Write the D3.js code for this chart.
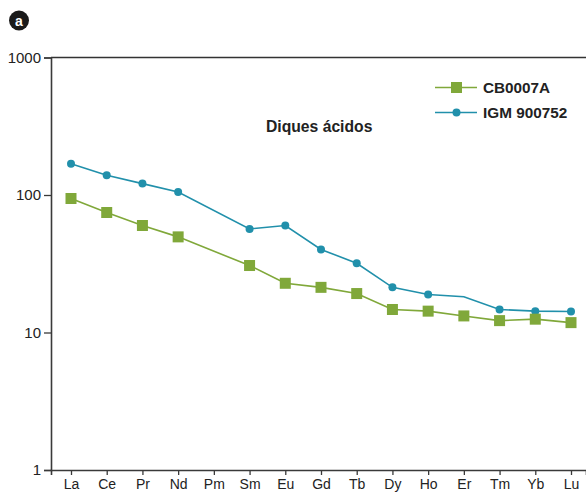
<!DOCTYPE html>
<html><head><meta charset="utf-8">
<script src="https://cdn.jsdelivr.net/npm/d3@7"></script>
<style>
html,body{margin:0;padding:0;background:#fff;}
svg{display:block;font-family:"Liberation Sans",Arial,Helvetica,sans-serif;}
</style></head>
<body>
<svg id="chart" width="586" height="492"></svg>
<script>
const elements = ["La","Ce","Pr","Nd","Pm","Sm","Eu","Gd","Tb","Dy","Ho","Er","Tm","Yb","Lu"];
const cb0007a = [94.3,74.6,60,49.6,null,30.7,22.8,21.3,19.2,14.7,14.3,13.2,12.2,12.5,11.8];
const igm900752 = [169,139,121,105,null,56.7,60,40.2,31.9,21.3,18.9,18.2,14.7,14.3,14.2];
const igmMarked = [true,true,true,true,false,true,true,true,true,true,true,false,true,true,true];
const yTicks = [1,10,100,1000];
const seriesNames = ["CB0007A","IGM 900752"];
const title = "Diques ácidos";
const panelLabel = "a";

(function(){
const green = "#80a83a", blue = "#2190ab";
const svg = d3.select("#chart");
const mLeft = 51, mRight = 586, mTop = 57.5, mBottom = 470;

const x = d3.scaleLinear().domain([-0.56, 14.42]).range([mLeft, mRight]);
const y = d3.scaleLog().domain([1, 1000]).range([mBottom, mTop]);

// Top frame line
svg.append("line").attr("x1", mLeft).attr("x2", mRight).attr("y1", mTop).attr("y2", mTop)
  .attr("stroke", "#333").attr("stroke-width", 1.5);

// Y axis
const yAxis = d3.axisLeft(y).tickValues(yTicks).tickFormat(d3.format("d")).tickSizeOuter(0).tickSize(7).tickPadding(3);
const gy = svg.append("g").attr("transform", `translate(${mLeft},0)`).call(yAxis);
gy.select(".domain").attr("stroke", "#3a3a3a").attr("stroke-width", 1.6);
gy.selectAll(".tick line").attr("stroke", "#3a3a3a").attr("stroke-width", 1.3);
gy.selectAll(".tick text").attr("font-size", 15).attr("fill", "#222").attr("font-family", "Liberation Sans, Arial, sans-serif");

// X axis
const xAxis = d3.axisBottom(x).tickValues(d3.range(elements.length)).tickFormat(i => elements[i]).tickSizeOuter(0).tickSize(5).tickPadding(4);
const gx = svg.append("g").attr("transform", `translate(0,${mBottom})`).call(xAxis);
gx.select(".domain").attr("stroke", "#3a3a3a").attr("stroke-width", 1.6);
gx.selectAll(".tick line").attr("stroke", "#3a3a3a").attr("stroke-width", 1.3);
gx.selectAll(".tick text").attr("font-size", 14).attr("fill", "#222").attr("font-family", "Liberation Sans, Arial, sans-serif");

// Lines
function drawSeries(vals, color, shape, marked) {
  const pts = vals.map((v, i) => ({i, v, m: marked ? marked[i] : true})).filter(d => d.v != null);
  const line = d3.line().x(d => x(d.i)).y(d => y(d.v));
  svg.append("path").datum(pts).attr("d", line).attr("fill", "none")
    .attr("stroke", color).attr("stroke-width", 1.6);
  const mp = pts.filter(d => d.m);
  if (shape === "square") {
    svg.selectAll(null).data(mp).enter().append("rect")
      .attr("x", d => x(d.i) - 5.5).attr("y", d => y(d.v) - 5.5)
      .attr("width", 11).attr("height", 11).attr("fill", color);
  } else {
    svg.selectAll(null).data(mp).enter().append("circle")
      .attr("cx", d => x(d.i)).attr("cy", d => y(d.v)).attr("r", 4).attr("fill", color);
  }
}
drawSeries(igm900752, blue, "circle", igmMarked);
drawSeries(cb0007a, green, "square", null);

// Legend
const legend = [{name: seriesNames[0], color: green, shape: "square", yy: 87.5},
                {name: seriesNames[1], color: blue, shape: "circle", yy: 112.5}];
legend.forEach(l => {
  svg.append("line").attr("x1", 435).attr("x2", 477).attr("y1", l.yy).attr("y2", l.yy)
    .attr("stroke", l.color).attr("stroke-width", 1.6);
  if (l.shape === "square") {
    svg.append("rect").attr("x", 456.5 - 5.5).attr("y", l.yy - 5.5).attr("width", 11).attr("height", 11).attr("fill", l.color);
  } else {
    svg.append("circle").attr("cx", 456.5).attr("cy", l.yy).attr("r", 4).attr("fill", l.color);
  }
  svg.append("text").attr("x", 483).attr("y", l.yy + 5.3).attr("font-size", 15.3).attr("font-weight", "bold")
    .attr("fill", "#222").text(l.name);
});

// Title
svg.append("text").attr("x", 266).attr("y", 132).attr("font-size", 15.7).attr("font-weight", "bold")
  .attr("fill", "#222").text(title);

// Panel label
svg.append("circle").attr("cx", 19).attr("cy", 20.5).attr("r", 10).attr("fill", "#1a1a1a");
svg.append("text").attr("x", 19).attr("y", 25.5).attr("text-anchor", "middle").attr("font-size", 14)
  .attr("font-weight", "bold").attr("fill", "#fff").text(panelLabel);
})();
</script>
</body></html>
